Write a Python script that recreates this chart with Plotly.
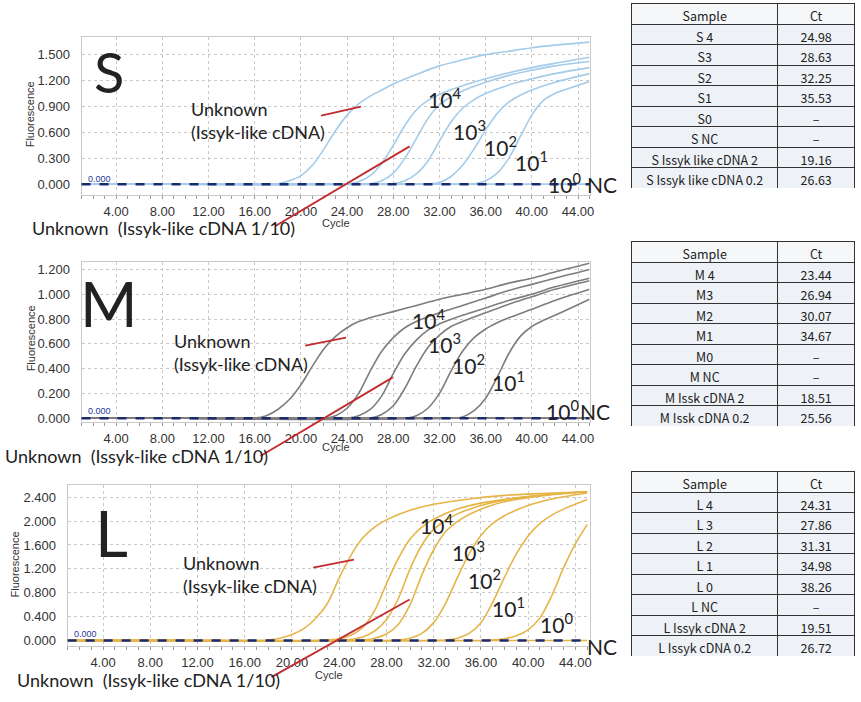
import plotly.graph_objects as go

W, H = 861, 702

# ---------------- data ----------------
CYCLE_TICKS = [4, 8, 12, 16, 20, 24, 28, 32, 36, 40, 44]
S_YTICKS = [0.0, 0.3, 0.6, 0.9, 1.2, 1.5]
M_YTICKS = [0.0, 0.2, 0.4, 0.6, 0.8, 1.0, 1.2]
L_YTICKS = [0.0, 0.4, 0.8, 1.2, 1.6, 2.0, 2.4]

# S panel curves (Unknown cDNA 2, 10^4, Unknown 1/10, 10^3, 10^2, 10^1, 10^0, NC)
S_X = [
    [1, 10, 17, 18, 19, 20, 21, 22, 23, 24, 25, 26, 27, 28, 30, 32, 34, 36, 38, 40, 42, 45],
    [1, 10, 23, 24, 25, 26, 27, 28, 29, 30, 31, 32, 34, 36, 38, 40, 42, 45],
    [1, 10, 25, 26, 27, 28, 29, 30, 31, 32, 33, 34, 36, 38, 40, 42, 45],
    [1, 10, 27, 28, 29, 30, 31, 32, 33, 34, 35, 36, 38, 40, 42, 45],
    [1, 10, 30, 31, 32, 33, 34, 35, 36, 37, 38, 39, 40, 42, 45],
    [1, 10, 34, 35, 36, 37, 38, 39, 40, 41, 42, 43, 45],
    [1, 45],
    [1, 45],
]
S_Y = [
    [0, 0, 0, 0.005, 0.04, 0.10, 0.22, 0.41, 0.62, 0.80, 0.93, 1.02, 1.09, 1.16, 1.27, 1.37, 1.44, 1.50, 1.54, 1.58, 1.61, 1.645],
    [0, 0, 0, 0.005, 0.03, 0.10, 0.24, 0.45, 0.68, 0.86, 0.97, 1.04, 1.14, 1.22, 1.29, 1.35, 1.40, 1.47],
    [0, 0, 0, 0.005, 0.04, 0.13, 0.30, 0.53, 0.76, 0.92, 1.01, 1.08, 1.18, 1.26, 1.32, 1.37, 1.42],
    [0, 0, 0, 0.005, 0.04, 0.12, 0.27, 0.50, 0.72, 0.88, 0.98, 1.05, 1.15, 1.22, 1.28, 1.35],
    [0, 0, 0, 0.005, 0.02, 0.09, 0.22, 0.41, 0.63, 0.82, 0.95, 1.03, 1.09, 1.18, 1.28],
    [0, 0, 0, 0.005, 0.04, 0.13, 0.30, 0.55, 0.80, 0.97, 1.05, 1.10, 1.19],
    [0, 0],
    [0, 0],
]

# M panel curves
M_X = [
    [1, 10, 16, 17, 18, 19, 20, 21, 22, 23, 24, 25, 26, 28, 30, 32, 34, 36, 38, 40, 42, 45],
    [1, 10, 22, 23, 24, 25, 26, 27, 28, 29, 30, 32, 34, 36, 38, 40, 42, 45],
    [1, 10, 24, 25, 26, 27, 28, 29, 30, 31, 32, 34, 36, 38, 40, 42, 45],
    [1, 10, 26, 27, 28, 29, 30, 31, 32, 33, 34, 36, 38, 40, 42, 45],
    [1, 10, 29, 30, 31, 32, 33, 34, 35, 36, 37, 38, 40, 42, 45],
    [1, 10, 33, 34, 35, 36, 37, 38, 39, 40, 41, 42, 45],
    [1, 45],
    [1, 45],
]
M_Y = [
    [0, 0, 0, 0.02, 0.07, 0.15, 0.27, 0.42, 0.56, 0.66, 0.73, 0.78, 0.81, 0.86, 0.91, 0.96, 1.00, 1.04, 1.09, 1.13, 1.18, 1.25],
    [0, 0, 0, 0.02, 0.08, 0.20, 0.38, 0.54, 0.65, 0.73, 0.78, 0.85, 0.91, 0.97, 1.03, 1.08, 1.13, 1.20],
    [0, 0, 0, 0.02, 0.07, 0.18, 0.36, 0.52, 0.63, 0.71, 0.76, 0.83, 0.89, 0.95, 1.00, 1.06, 1.13],
    [0, 0, 0, 0.03, 0.10, 0.24, 0.42, 0.57, 0.67, 0.74, 0.78, 0.85, 0.92, 0.98, 1.04, 1.11],
    [0, 0, 0, 0.02, 0.08, 0.20, 0.38, 0.54, 0.65, 0.72, 0.77, 0.81, 0.88, 0.95, 1.04],
    [0, 0, 0, 0.01, 0.06, 0.16, 0.33, 0.52, 0.66, 0.74, 0.79, 0.83, 0.96],
    [0, 0],
    [0, 0],
]

# L panel curves
L_X = [
    [1, 10, 17, 18, 19, 20, 21, 22, 23, 24, 25, 26, 27, 28, 30, 32, 35, 38, 41, 45],
    [1, 10, 22, 23, 24, 25, 26, 27, 28, 29, 30, 31, 32, 34, 36, 39, 42, 45],
    [1, 10, 24, 25, 26, 27, 28, 29, 30, 31, 32, 33, 34, 36, 38, 41, 45],
    [1, 10, 25, 26, 27, 28, 29, 30, 31, 32, 33, 34, 35, 37, 39, 42, 45],
    [1, 10, 28, 29, 30, 31, 32, 33, 34, 35, 36, 37, 38, 40, 42, 45],
    [1, 10, 32, 33, 34, 35, 36, 37, 38, 39, 40, 41, 42, 43, 45],
    [1, 10, 36, 37, 38, 39, 40, 41, 42, 43, 44, 45],
    [1, 45],
]
L_Y = [
    [0, 0, 0, 0.01, 0.04, 0.10, 0.20, 0.37, 0.62, 1.05, 1.43, 1.72, 1.90, 2.02, 2.18, 2.28, 2.37, 2.43, 2.46, 2.49],
    [0, 0, 0, 0.01, 0.03, 0.09, 0.22, 0.50, 0.95, 1.37, 1.70, 1.90, 2.03, 2.20, 2.30, 2.39, 2.45, 2.49],
    [0, 0, 0, 0.02, 0.06, 0.16, 0.35, 0.70, 1.20, 1.60, 1.86, 2.01, 2.12, 2.26, 2.35, 2.43, 2.49],
    [0, 0, 0, 0.01, 0.04, 0.11, 0.27, 0.60, 1.10, 1.52, 1.82, 1.99, 2.11, 2.27, 2.36, 2.44, 2.49],
    [0, 0, 0, 0.01, 0.04, 0.12, 0.30, 0.62, 1.05, 1.45, 1.76, 1.96, 2.09, 2.26, 2.37, 2.47],
    [0, 0, 0, 0.01, 0.04, 0.12, 0.30, 0.64, 1.06, 1.45, 1.75, 1.96, 2.10, 2.20, 2.36],
    [0, 0, 0, 0.01, 0.03, 0.08, 0.18, 0.38, 0.75, 1.22, 1.62, 1.94],
    [0, 0],
]

S_SAMPLES = ["S 4", "S3", "S2", "S1", "S0", "S NC", "S Issyk like cDNA 2", "S Issyk like cDNA 0.2"]
S_CT = ["24.98", "28.63", "32.25", "35.53", "–", "–", "19.16", "26.63"]
M_SAMPLES = ["M 4", "M3", "M2", "M1", "M0", "M NC", "M Issk cDNA 2", "M Issk cDNA 0.2"]
M_CT = ["23.44", "26.94", "30.07", "34.67", "–", "–", "18.51", "25.56"]
L_SAMPLES = ["L 4", "L 3", "L 2", "L 1", "L 0", "L NC", "L Issyk cDNA 2", "L Issyk cDNA 0.2"]
L_CT = ["24.31", "27.86", "31.31", "34.98", "38.26", "–", "19.51", "26.72"]

# ---------------- helpers ----------------
def PX(x):
    return x / W

def PY(y):
    return 1 - y / H

fig = go.Figure()

panels = [
    dict(sfx="", X=S_X, Y=S_Y, color="#a3cbea", yt=S_YTICKS, yr=[-0.126, 1.706],
         dom_x=[82, 593], dom_y=[37, 196], xr=[1, 45]),
    dict(sfx="2", X=M_X, Y=M_Y, color="#7d7d7d", yt=M_YTICKS, yr=[-0.035, 1.264],
         dom_x=[82, 593], dom_y=[262.7, 424.3], xr=[1, 45]),
    dict(sfx="3", X=L_X, Y=L_Y, color="#e6b548", yt=L_YTICKS, yr=[-0.095, 2.61],
         dom_x=[68, 593], dom_y=[486.7, 649], xr=[1, 45.2]),
]

tick_font = dict(family="Liberation Sans Narrow, Liberation Sans, Arial", size=13, color="#333333")

for p in panels:
    xa = "x" + p["sfx"]
    ya = "y" + p["sfx"]
    for xs, ys in zip(p["X"], p["Y"]):
        fig.add_trace(go.Scatter(x=xs, y=ys, mode="lines", xaxis=xa, yaxis=ya,
                                 line=dict(color=p["color"], width=1.6, shape="spline", smoothing=0.9),
                                 hoverinfo="skip", showlegend=False))
    axx = dict(domain=[PX(p["dom_x"][0]), PX(p["dom_x"][1])], range=p["xr"],
               tickvals=CYCLE_TICKS, ticktext=["%.2f" % v for v in CYCLE_TICKS],
               showgrid=True, gridcolor="#c9c9c9", griddash="dot", gridwidth=1,
               zeroline=False, showline=True, linecolor="#c9c9c9", mirror=True,
               ticks="", tickfont=tick_font, ticklabelstandoff=4,
               minor=dict(dtick=1, tick0=0, ticks="outside", ticklen=3, tickcolor="#999999", showgrid=False),
               anchor=ya, fixedrange=True)
    axy = dict(domain=[PY(p["dom_y"][1]), PY(p["dom_y"][0])], range=p["yr"],
               tickvals=p["yt"], ticktext=["%.3f" % v for v in p["yt"]],
               showgrid=True, gridcolor="#c9c9c9", griddash="dot", gridwidth=1,
               zeroline=False, showline=True, linecolor="#c9c9c9", mirror=True,
               ticks="", tickfont=tick_font, ticklabelstandoff=8,
               anchor=xa, fixedrange=True)
    fig.update_layout(**{"xaxis" + p["sfx"]: axx, "yaxis" + p["sfx"]: axy})
    # threshold line
    fig.add_shape(type="line", xref=xa + " domain", yref=ya, x0=0, x1=1, y0=0, y1=0,
                  line=dict(color="#1c2b6e", width=2.5, dash="dash"), layer="above")

# ---------------- annotations ----------------
def text(x, y, s, size, xanchor="center", color="#222222", family="Lato", yanchor="middle", angle=0, align="center"):
    fig.add_annotation(x=PX(x), y=PY(y), xref="paper", yref="paper", text=s, showarrow=False,
                       xanchor=xanchor, yanchor=yanchor, textangle=angle, align=align,
                       font=dict(family=family, size=size, color=color))

# big letters
text(110, 72, "S", 56)
text(110, 304, "M", 62)
text(112, 535, "L", 64)

# unknown labels
text(190, 121.5, "Unknown<br>(Issyk-like cDNA)", 18, xanchor="left", align="left")
text(173, 354, "Unknown<br>(Issyk-like cDNA)", 18, xanchor="left", align="left")
text(182, 577, "Unknown<br>(Issyk-like cDNA)", 18, xanchor="left", align="left")
text(30, 229, "Unknown  (Issyk-like cDNA 1/10)", 18, xanchor="left")
text(3, 458, "Unknown  (Issyk-like cDNA 1/10)", 18, xanchor="left")
text(15, 683, "Unknown  (Issyk-like cDNA 1/10)", 18, xanchor="left")

# dilution labels
for (x, y, n) in [(447, 98, 4), (472, 131, 3), (503, 147, 2), (535, 162, 1), (568, 184, 0),
                  (431, 320, 4), (447, 344, 3), (471, 366, 2), (511, 383, 1), (566, 412, 0),
                  (439, 526, 4), (471, 553, 3), (487, 581, 2), (511, 610, 1), (560, 626, 0)]:
    text(x, y, "10<sup>%d</sup>" % n, 21)
text(606, 185, "NC", 21)
text(598, 413, "NC", 21)
text(606, 649, "NC", 21)

# threshold value labels
for (x, y) in [(86, 180), (86, 413), (72, 637)]:
    text(x, y, "0.000", 9, xanchor="left", color="#1f3a9a", family="Liberation Sans")

# axis titles
axis_font = "Liberation Sans Narrow, Liberation Sans, Arial"
for (x, y) in [(30, 115), (31, 340), (15, 567)]:
    text(x, y, "Fluorescence", 11, color="#333333", family=axis_font, angle=-90)
for (x, y) in [(338, 224), (338, 449), (331, 678)]:
    text(x, y, "Cycle", 11, color="#333333", family=axis_font)

# red pointer lines
for (x0, y0, x1, y1) in [(323, 116, 363, 107), (277, 227, 412, 147),
                         (307, 347, 348, 339), (262, 458, 395, 379),
                         (315, 570, 356, 562), (273, 680, 412, 602)]:
    fig.add_shape(type="line", xref="paper", yref="paper", x0=PX(x0), y0=PY(y0),
                  x1=PX(x1), y1=PY(y1), line=dict(color="#c22a2e", width=1.8), layer="above")

# ---------------- tables ----------------
for (samples, cts, top) in [(S_SAMPLES, S_CT, 4), (M_SAMPLES, M_CT, 243), (L_SAMPLES, L_CT, 474)]:
    rowh = 20.5
    bottom = top + rowh * 9 + 1
    fig.add_trace(go.Table(
        domain=dict(x=[PX(635), PX(860)], y=[PY(bottom), PY(top)]),
        columnwidth=[148, 77],
        header=dict(values=["Sample", "Ct"], fill_color="#f6f7f9", line_color="#333333",
                    align="center", height=rowh,
                    font=dict(family="Noto Sans CJK JP", size=12.5, color="#222222")),
        cells=dict(values=[samples, cts], fill_color="#eef2f7", line_color="#333333",
                   align="center", height=rowh,
                   font=dict(family="Noto Sans CJK JP", size=12.5, color="#222222")),
    ))

fig.update_layout(width=W, height=H, margin=dict(l=0, r=0, t=0, b=0),
                  paper_bgcolor="white", plot_bgcolor="white", showlegend=False)

fig.write_html("out.html", config={"displayModeBar": False},
               post_script="document.body.style.margin='0px';document.body.style.padding='0px';")
